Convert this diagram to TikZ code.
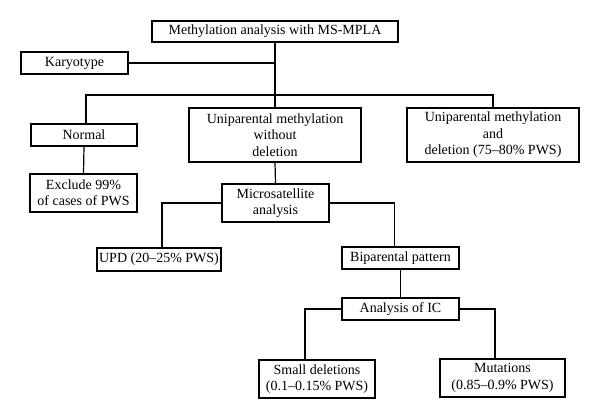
\documentclass[tikz,border=0pt]{standalone}
\usepackage{fontspec}
\setmainfont{Liberation Serif}
\usetikzlibrary{positioning, calc}

\begin{document}
\begin{tikzpicture}[
    x=1pt, y=-1pt,
    box/.style={draw, line width=1.2pt, inner sep=0pt, align=center,
        font=\fontsize{14}{16.5}\selectfont},
    link/.style={line width=1.2pt}
]
    \useasboundingbox (0,0) rectangle (600,419);

    % Boxes
    \node[box, minimum width=246pt, minimum height=21pt] (top) at (275,31.5) {Methylation analysis with MS-MPLA};
    \node[box, minimum width=107pt, minimum height=22pt] (kary) at (74.5,63) {Karyotype};
    \node[box, minimum width=106pt, minimum height=22pt] (normal) at (84,135) {Normal};
    \node[box, minimum width=172pt, minimum height=54pt] (uni) at (275,135) {Uniparental methylation\\without\\deletion};
    \node[box, minimum width=172pt, minimum height=54pt] (unidel) at (493,135) {Uniparental methylation\\and\\deletion (75--80\% PWS)};
    \node[box, minimum width=107pt, minimum height=38pt] (exclude) at (83.5,193) {Exclude 99\%\\of cases of PWS};
    \node[box, minimum width=107pt, minimum height=38pt] (micro) at (275.5,203) {Microsatellite\\analysis};
    \node[box, minimum width=124pt, minimum height=23pt] (upd) at (159,259.5) {UPD (20--25\% PWS)};
    \node[box, minimum width=117pt, minimum height=22pt] (bip) at (400.5,258) {Biparental pattern};
    \node[box, minimum width=117pt, minimum height=22pt] (ic) at (400.5,309) {Analysis of IC};
    \node[box, minimum width=116pt, minimum height=38pt] (small) at (317,379) {Small deletions\\(0.1--0.15\% PWS)};
    \node[box, minimum width=125pt, minimum height=38pt] (mut) at (502.5,378) {Mutations\\(0.85--0.9\% PWS)};

    % Connectors
    \coordinate (bus) at (276,95);
    \draw[link] (top.south) -- (uni.north);
    \draw[link] (kary.east) -- (kary.east -| top.south);
    \draw[link] ([xshift=2pt]normal.north) |- (bus) -| (unidel.north);
    \draw[link] (normal.south) -- (exclude.north);
    \draw[link] (uni.south) -- (micro.north);
    \draw[link] (micro.west) -| ([xshift=3pt]upd.north);
    \draw[link] (micro.east) -| ([xshift=-6pt]bip.north);
    \draw[link] (bip.south) -- (ic.north);
    \draw[link] (ic.west) -| ([xshift=-12pt]small.north);
    \draw[link] (ic.east) -| ([xshift=-7.5pt]mut.north);

\end{tikzpicture}
\end{document}
